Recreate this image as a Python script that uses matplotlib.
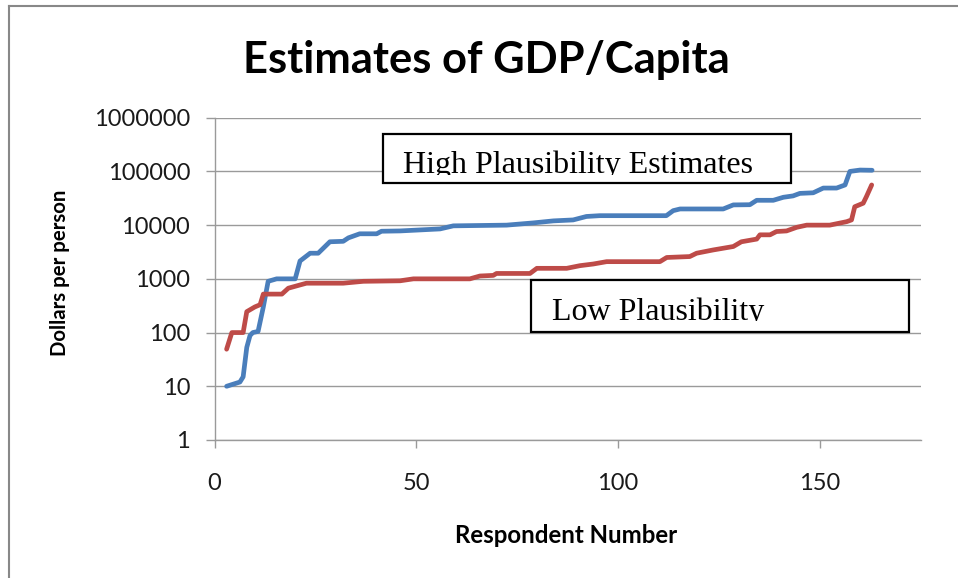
import matplotlib.pyplot as plt
from matplotlib.lines import Line2D
from matplotlib.patches import Rectangle
from matplotlib.transforms import Bbox, TransformedBbox

# respondent number (sorted answers) -> dollars per person
high_x = [3, 6.3, 7.1, 8, 8.8, 9.5, 10.8, 12.1, 13.3, 15.4,
          20, 21.2, 23.7, 25.7, 28.6, 31.9, 33.2, 36, 40.2, 41.4,
          46, 55.9, 59.2, 72.4, 79, 84, 88.9, 92.2, 95.5, 112,
          113.7, 115.4, 126.1, 128.6, 132.7, 134.4, 138.5, 141, 143.4, 145.1,
          148.4, 150.9, 154.2, 156.3, 157.5, 160, 163]
high_y = [10, 12, 15, 53, 88, 100, 105, 300, 900, 1000,
          1000, 2150, 3000, 3000, 4900, 5000, 5800, 6900, 6900, 7700,
          7800, 8500, 9700, 10000, 11000, 12000, 12500, 14500, 15000, 15000,
          18600, 20000, 20000, 23800, 24000, 29000, 29000, 33000, 35000, 39000,
          40000, 49000, 49000, 56000, 100000, 106000, 105000]

low_x = [3, 4.3, 7.1, 8, 10, 11.3, 12.1, 16.7, 18.3, 21.2,
         22.8, 31.9, 36.9, 46, 49.3, 63.3, 65.8, 69.1, 69.9, 78.2,
         79.9, 87.3, 90.6, 93.9, 97.2, 110.4, 112.1, 117.8, 119.5, 123.6,
         128.6, 130.6, 134.4, 135.2, 137.7, 139.3, 141.8, 144.3, 146.8, 152.5,
         156.7, 157.9, 158.7, 160.8, 161.6, 162.9]
low_y = [49, 100, 100, 245, 300, 330, 520, 520, 670, 770,
         830, 830, 900, 920, 1000, 1000, 1130, 1160, 1260, 1260,
         1570, 1570, 1760, 1890, 2090, 2090, 2500, 2600, 3000, 3450,
         4000, 4900, 5500, 6600, 6600, 7600, 7800, 9100, 10000, 10000,
         11600, 12500, 22000, 25600, 34000, 56000]

y_ticks = [1, 10, 100, 1000, 10000, 100000, 1000000]
x_ticks = [0, 50, 100, 150]

W, H = 958, 578


def fx(px):
    return px / W


def fy(py):
    return 1 - py / H


fig = plt.figure(figsize=(W / 100, H / 100), dpi=100)
fig.patch.set_facecolor('white')

ax = fig.add_axes([fx(214.5), fy(440), fx(920.5) - fx(214.5), fy(117.7) - fy(440)])
ax.set_yscale('log')
ax.set_xlim(0, 175)
ax.set_ylim(1, 1000000)

grid_c = '#9a9a9a'
ax.plot(high_x, high_y, color='#4a7ebb', lw=3.4, solid_joinstyle='round',
        solid_capstyle='round', zorder=3)
ax.plot(low_x, low_y, color='#be4b48', lw=3.4, solid_joinstyle='round',
        solid_capstyle='round', zorder=3)

ax.set_yticks(y_ticks)
ax.set_yticklabels([str(v) for v in y_ticks])
ax.yaxis.set_minor_locator(plt.NullLocator())
ax.set_xticks(x_ticks)
ax.set_xticklabels([str(v) for v in x_ticks])
ax.grid(axis='y', color=grid_c, lw=1.0)
ax.set_axisbelow(True)
for s in ['top', 'right']:
    ax.spines[s].set_visible(False)
for s in ['left', 'bottom']:
    ax.spines[s].set_color(grid_c)
    ax.spines[s].set_linewidth(1.0)
ax.tick_params(axis='y', direction='out', length=6.5, width=1.0, color=grid_c,
               pad=11, labelsize=17, labelcolor='#1a1a1a')
ax.tick_params(axis='x', direction='out', length=6, width=1.0, color=grid_c,
               pad=17.5, labelsize=17, labelcolor='#1a1a1a')
for lab in ax.get_xticklabels() + ax.get_yticklabels():
    lab.set_family('Lato')

fig.text(fx(486.5), fy(73), 'Estimates of GDP/Capita', family='Lato',
         weight='bold', fontsize=31.3, ha='center', va='baseline')
fig.text(fx(566), fy(543), 'Respondent Number', family='Lato',
         weight='bold', fontsize=17.3, ha='center', va='baseline')
fig.text(fx(60), fy(273), 'Dollars per person', family='Lato',
         weight='bold', fontsize=14.7, ha='center', va='center', rotation=90)

# clipped text boxes
boxes = [
    ('High Plausibility Estimates', (382.7, 134, 791, 183.3), 403, 173.5, 174.5),
    ('Low Plausibility', (530.7, 280, 909, 331.7), 551.7, 320, 321),
]
for txt, (x0, y0, x1, y1), tx, base, clip_y in boxes:
    fig.add_artist(Rectangle((fx(x0), fy(y1)), fx(x1) - fx(x0), fy(y0) - fy(y1),
                             transform=fig.transFigure, facecolor='white',
                             edgecolor='black', lw=1.6, zorder=5))
    t = fig.text(fx(tx), fy(base), txt, family='Liberation Serif', fontsize=23,
                 ha='left', va='baseline', zorder=6)
    t.set_clip_box(TransformedBbox(Bbox([[fx(x0), fy(clip_y)], [fx(x1), fy(y0)]]),
                                   fig.transFigure))
    t.set_clip_on(True)

# chart area border (left and top visible)
fig.add_artist(Line2D([fx(9), fx(9)], [0, fy(6)], color='#888888', lw=1.5))
fig.add_artist(Line2D([fx(9), 1], [fy(6), fy(6)], color='#888888', lw=1.5))

fig.savefig('out.png', dpi=100)
